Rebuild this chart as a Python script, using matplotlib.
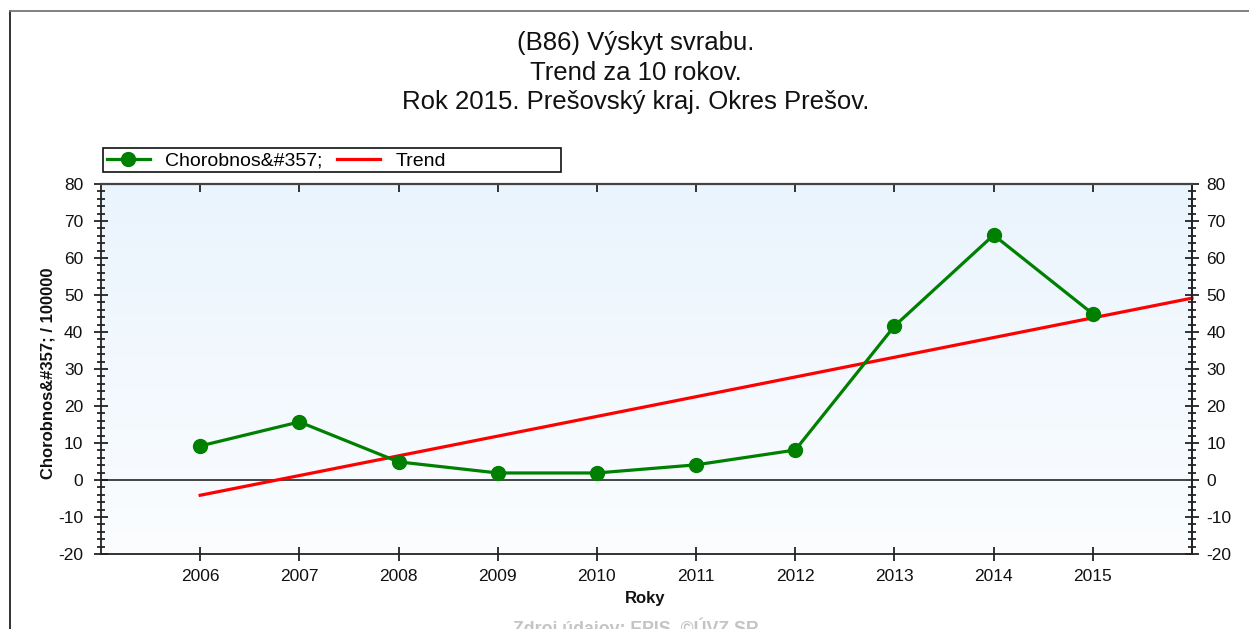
import numpy as np
import matplotlib
matplotlib.use("Agg")
import matplotlib.pyplot as plt
from matplotlib.colors import LinearSegmentedColormap
from matplotlib.ticker import MultipleLocator
from matplotlib.lines import Line2D
from matplotlib.patches import Rectangle

plt.rcParams['font.family'] = ['Liberation Sans', 'DejaVu Sans']
plt.rcParams['axes.unicode_minus'] = False

# Incidence per 100 000 by year
years = [2006, 2007, 2008, 2009, 2010, 2011, 2012, 2013, 2014, 2015]
values = [9.2, 15.7, 4.9, 1.9, 1.9, 4.1, 8.1, 41.6, 66.2, 44.9]
year_labels = [str(y) for y in years]
y_ticks = [-20, -10, 0, 10, 20, 30, 40, 50, 60, 70, 80]

title_lines = ["(B86) Výskyt svrabu.", "Trend za 10 rokov.",
               "Rok 2015. Prešovský kraj. Okres Prešov."]
series_name = "Chorobnos&#357;"
trend_name = "Trend"
y_label = "Chorobnos&#357; / 100000"
x_label = "Roky"
source_note = "Zdroj údajov: EPIS, ©ÚVZ SR"

W, H = 1249, 629
fig = plt.figure(figsize=(W / 100, H / 100), dpi=100)
fig.patch.set_facecolor('white')

def fx(px):
    return px / W

def fy(py):
    return 1 - py / H

ax = fig.add_axes([fx(101), fy(554), fx(1192) - fx(101), fy(184) - fy(554)])
ax.set_xlim(2005, 2016)
ax.set_ylim(-20, 80)

# soft vertical gradient in the plotting area
grad = LinearSegmentedColormap.from_list('bg', ['#fbfdff', '#eaf4fd'])
ax.imshow(np.linspace(0, 1, 256).reshape(-1, 1), cmap=grad, origin='lower',
          extent=[0, 1, 0, 1], transform=ax.transAxes, aspect='auto', zorder=0)

# zero line
ax.axhline(0, color='#444444', lw=1.4, zorder=1)

# linear trend fitted to the series, extended one year forward
slope, intercept = np.polyfit(years, values, 1)
trend_x = np.array([years[0], years[-1] + 1])
trend_y = slope * trend_x + intercept

ax.plot(years, values, color='#008000', lw=2.3, marker='o', ms=10, zorder=3,
        clip_on=False)
ax.plot(trend_x, trend_y, color='#ff0000', lw=2.3, zorder=2, clip_on=False)

for side in ['left', 'right', 'bottom']:
    ax.spines[side].set_color('#222222')
    ax.spines[side].set_linewidth(1.3)
ax.spines['top'].set_color('#444444')
ax.spines['top'].set_linewidth(1.6)

ax.set_xticks(years)
ax.set_xticklabels(year_labels)
ax.tick_params(axis='x', which='major', direction='inout', length=10, width=1.2,
               pad=5.5, labelsize=12.5, colors='#111111', top=False)

ax.set_yticks(y_ticks)
ax.yaxis.set_minor_locator(MultipleLocator(2))
ax.tick_params(axis='y', which='major', direction='inout', length=10.5, width=1.2,
               pad=7.5, labelsize=12.5, colors='#111111')
ax.tick_params(axis='y', which='minor', direction='inout', length=6, width=1.1)

# right axis mirrors the left one
ax_r = ax.secondary_yaxis('right')
ax_r.set_yticks(y_ticks)
ax_r.yaxis.set_minor_locator(MultipleLocator(2))
ax_r.tick_params(axis='y', which='major', direction='inout', length=10.5, width=1.2,
                 pad=5.0, labelsize=12.5, colors='#111111')
ax_r.tick_params(axis='y', which='minor', direction='inout', length=6, width=1.1)
ax_r.spines['right'].set_color('#222222')
ax_r.spines['right'].set_linewidth(1.3)

# top ticks pointing inwards
ax_t = ax.secondary_xaxis('top')
ax_t.set_xticks(years)
ax_t.tick_params(axis='x', direction='in', length=5.5, width=1.2, labeltop=False,
                 colors='#111111')
ax_t.spines['top'].set_visible(False)

# axis titles
fig.text(fx(645), fy(598), x_label, ha='center', va='center', fontsize=12,
         fontweight='bold', color='#111111')
fig.text(fx(48), fy(373), y_label, ha='center', va='center', rotation=90,
         fontsize=12, fontweight='bold', color='#111111')

# chart title
for i, line in enumerate(title_lines):
    fig.text(fx(636), fy(43 + 29.5 * i), line, ha='center', va='center',
             fontsize=18.5, color='#111111')

# legend with its own frame
fig.add_artist(Rectangle((fx(103), fy(172)), fx(561) - fx(103), fy(148) - fy(172),
                         transform=fig.transFigure, facecolor='white',
                         edgecolor='#111111', lw=1.2))
handles = [Line2D([], [], color='#008000', lw=2.3, marker='o', ms=10),
           Line2D([], [], color='#ff0000', lw=2.3)]
fig.legend(handles, [series_name, trend_name], loc='center left',
           bbox_to_anchor=(fx(107), fy(161)), ncol=2, frameon=False,
           fontsize=14, handlelength=2.2, handletextpad=0.8, columnspacing=0.75,
           borderaxespad=0, borderpad=0)

# source note at the bottom edge
fig.text(fx(636), fy(617), source_note, ha='center', va='top', fontsize=12.8,
         color='#c4c4c4', fontweight='bold')

# outer frame
fig.add_artist(Line2D([fx(10), fx(10)], [0, fy(11)], color='#222222', lw=1.3))
fig.add_artist(Line2D([fx(10), 1], [fy(11), fy(11)], color='#777777', lw=1.3))

fig.savefig('out.png', dpi=100)
